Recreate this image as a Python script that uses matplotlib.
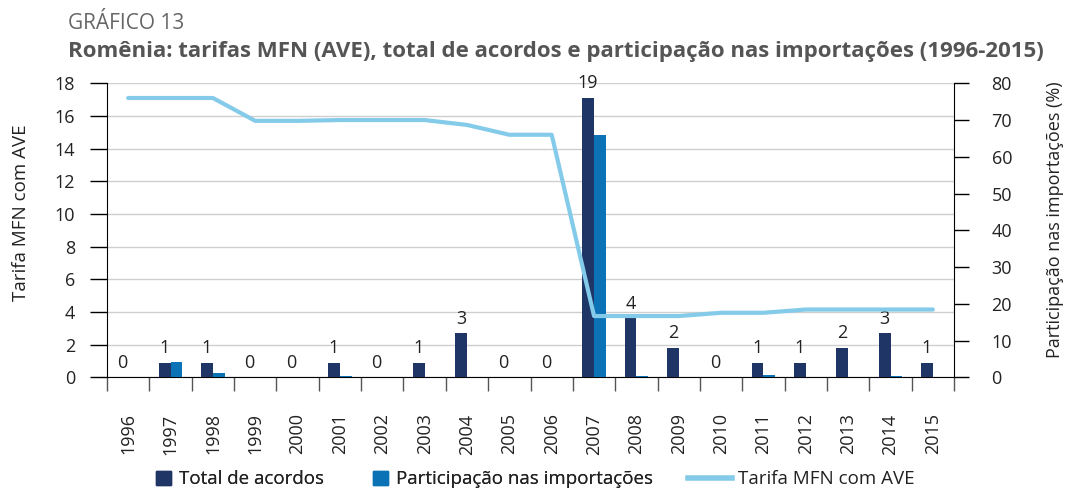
import matplotlib
matplotlib.use("Agg")
import matplotlib.pyplot as plt
from matplotlib.patches import Patch
from matplotlib.lines import Line2D
import numpy as np

plt.rcParams['font.family'] = ['Open Sans', 'DejaVu Sans']

anos = [str(a) for a in range(1996, 2016)]
total_acordos = [0, 1, 1, 0, 0, 1, 0, 1, 3, 0, 0, 19, 4, 2, 0, 1, 1, 2, 3, 1]
participacao = [0, 4.2, 1.25, 0, 0, 0.3, 0, 0.1, 0.15, 0, 0, 65.9, 0.3, 0.1, 0, 0.6, 0.1, 0.1, 0.25, 0.1]
tarifa = [17.1, 17.1, 17.1, 15.7, 15.7, 15.75, 15.75, 15.75, 15.45, 14.85, 14.85,
          3.75, 3.75, 3.75, 3.95, 3.95, 4.15, 4.15, 4.15, 4.15]

cor_total = '#1F3566'
cor_part = '#0A72B5'
cor_linha = '#84CBEA'
cor_texto = '#222222'
fs = 13

fig = plt.figure(figsize=(10.65, 4.9), dpi=100)
ax = fig.add_axes([0.1005, 0.230, 0.7953, 0.600])

x = np.arange(len(anos))
w = 0.28

# eixo esquerdo: grade e ticks
ax.set_xlim(-0.5, len(anos) - 0.5)
ax.set_ylim(0, 18)
ax.set_yticks(range(0, 19, 2))
ax.grid(axis='y', color='#cfcfcf', lw=1)
ax.set_axisbelow(True)
ax.spines['top'].set_visible(False)
ax.spines['right'].set_visible(False)
ax.tick_params(axis='y', length=12, width=1, labelsize=fs, labelcolor=cor_texto, pad=11)
ax.set_xticks(x)
ax.set_xticklabels(anos, rotation=90, fontsize=fs, color=cor_texto)
ax.set_xticks(np.arange(-0.5, len(anos)), minor=True)
ax.tick_params(axis='x', which='major', length=0, pad=26)
ax.tick_params(axis='x', which='minor', length=10, width=1, color='#555555')
ax.set_ylabel('Tarifa MFN com AVE', fontsize=13.5, color=cor_texto)
ax.yaxis.set_label_coords(-0.091, 0.56)

# total de acordos (eixo oculto 0-20)
ax_n = ax.twinx()
ax_n.set_ylim(0, 20)
ax_n.axis('off')
ax_n.bar(x - w / 2, total_acordos, w, color=cor_total)
for xi, v in zip(x, total_acordos):
    ax_n.annotate(str(v), (xi - w / 2, v), xytext=(0, 4), textcoords='offset points',
                  ha='center', va='bottom', fontsize=fs, color=cor_texto)

# participacao nas importacoes (eixo direito)
ax_r = ax.twinx()
ax_r.set_ylim(0, 80)
ax_r.set_yticks(range(0, 81, 10))
ax_r.bar(x + w / 2, participacao, w, color=cor_part)
ax_r.spines['top'].set_visible(False)
ax_r.spines['left'].set_visible(False)
ax_r.spines['bottom'].set_visible(False)
ax_r.tick_params(axis='y', length=11, width=1, labelsize=fs, labelcolor=cor_texto, pad=16)
ax_r.set_ylabel('Participação nas importações (%)', fontsize=fs, color=cor_texto)
ax_r.yaxis.set_label_coords(1.108, 0.535)

# tarifa (linha, por cima)
ax_l = ax.twinx()
ax_l.set_ylim(0, 18)
ax_l.axis('off')
ax_l.plot(x, tarifa, color=cor_linha, lw=3, solid_capstyle='round')

fig.text(0.064, 0.953, 'GRÁFICO 13', fontsize=15, color='#666666', va='center')
fig.text(0.064, 0.894, 'Romênia: tarifas MFN (AVE), total de acordos e participação nas importações (1996-2015)',
         fontsize=16, fontweight='bold', color='#555555', va='center')

leg1 = fig.legend(handles=[Patch(color=cor_total, label='Total de acordos'),
                           Patch(color=cor_part, label='Participação nas importações')],
                  loc='center left', bbox_to_anchor=(156 / 1065, 0.022), ncol=2, frameon=False,
                  fontsize=13.5, handlelength=0.8, handleheight=0.8, columnspacing=2.6,
                  handletextpad=0.43, borderpad=0, borderaxespad=0, labelcolor=cor_texto)
leg2 = fig.legend(handles=[Line2D([], [], color=cor_linha, lw=4, label='Tarifa MFN com AVE')],
                  loc='center left', bbox_to_anchor=(688 / 1065, 0.022), frameon=False,
                  fontsize=13.5, handlelength=2.35, handletextpad=0.3, borderpad=0,
                  borderaxespad=0, labelcolor=cor_texto)
fig.add_artist(leg1)

fig.savefig('out.png', dpi=100)
